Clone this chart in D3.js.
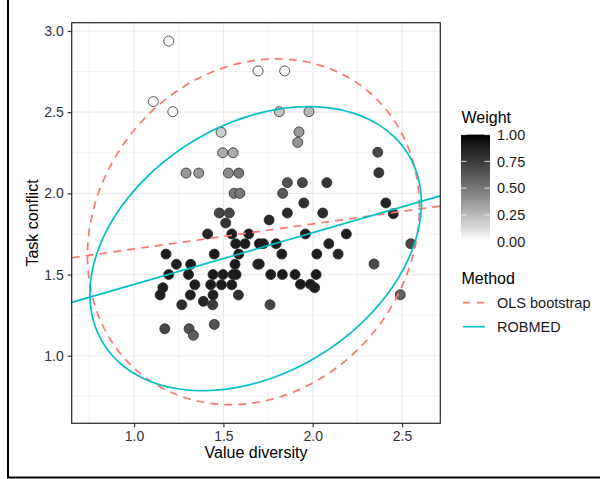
<!DOCTYPE html>
<html><head><meta charset="utf-8">
<script src="https://cdn.jsdelivr.net/npm/d3@7"></script>
<style>
html,body{margin:0;padding:0;background:#fff;}
svg{display:block;font-family:"Liberation Sans",Arial,Helvetica,sans-serif;}
</style></head>
<body><svg id="chart" width="600" height="479"></svg>
<script>
// ---- data ----
const valueDiversity = [
1.194,1.108,1.217,1.694,1.843,1.487,1.813,1.979,1.923,1.916,
1.496,1.554,1.291,1.362,1.528,1.586,1.560,1.592,1.477,1.533,
1.513,1.412,1.547,1.642,1.569,1.621,1.179,1.449,1.586,1.237,
1.317,1.565,1.692,1.194,1.305,1.442,1.498,1.554,1.571,1.161,
1.146,1.340,1.315,1.429,1.489,1.547,1.442,1.584,1.267,1.388,
1.440,1.172,1.308,1.332,1.449,2.364,2.370,1.858,1.942,2.079,
1.832,1.950,2.409,1.858,2.056,2.451,1.756,1.959,2.188,1.701,
1.724,1.795,2.090,2.549,1.827,2.023,2.142,1.701,2.343,1.765,
1.830,1.901,2.019,1.931,1.987,2.011,1.761,2.490];
const taskConflict = [
2.938,2.565,2.503,2.754,2.754,2.376,2.503,2.503,2.378,2.314,
2.25,2.25,2.125,2.125,2.125,2.125,2.0,2.0,1.879,1.879,
1.817,1.75,1.75,1.75,1.69,1.69,1.626,1.626,1.626,1.563,
1.563,1.563,1.563,1.5,1.5,1.5,1.5,1.5,1.5,1.419,
1.374,1.437,1.374,1.437,1.437,1.437,1.374,1.374,1.314,1.335,
1.314,1.166,1.166,1.126,1.193,2.253,2.127,2.066,2.066,2.066,
2.0,1.941,1.941,1.879,1.879,1.875,1.836,1.75,1.75,1.69,
1.69,1.69,1.69,1.69,1.626,1.626,1.626,1.565,1.565,1.5,
1.5,1.5,1.5,1.44,1.44,1.419,1.314,1.376];
const weight = [
0,0,0,0,0,0.18,0.2,0.25,0.36,0.38,
0.3,0.3,0.37,0.37,0.42,0.5,0.5,0.5,0.7,0.7,
0.78,0.85,0.9,0.9,0.9,0.9,0.88,0.9,0.9,0.88,
0.9,0.9,0.9,0.9,0.9,0.9,0.9,0.9,0.9,0.88,
0.88,0.9,0.88,0.9,0.9,0.9,0.88,0.8,0.82,0.85,
0.75,0.7,0.65,0.6,0.65,0.7,0.78,0.65,0.7,0.78,
0.63,0.8,0.87,0.83,0.83,0.87,0.83,0.9,0.9,0.9,
0.9,0.9,0.88,0.7,0.88,0.88,0.85,0.88,0.68,0.9,
0.9,0.9,0.9,0.9,0.9,0.88,0.7,0.58];

const methods = ["OLS bootstrap", "ROBMED"];
const methodColors = ["#F8766D", "#00BFC4"];
const methodDash = ["8,6", null];
const lineIntercept = [1.503, 1.122];
const lineSlope = [0.1544, 0.3177];
const ellipseCx = [1.668, 1.6805];
const ellipseCy = [1.7635, 1.6595];
const ellipseHalfX = [0.929, 0.9275];
const ellipseHalfY = [1.0645, 0.8745];
const ellipseRho = [0.14, 0.32];

const xTicks = [1.0, 1.5, 2.0, 2.5];
const xMinor = [0.75, 1.25, 1.75, 2.25];
const yTicks = [1.0, 1.5, 2.0, 2.5, 3.0];
const yMinor = [0.75, 1.25, 1.75, 2.25, 2.75];
const weightTicks = [0, 0.25, 0.5, 0.75, 1];

// ---- layout ----
const svg = d3.select("#chart");
const P = {l: 71.7, r: 440.3, t: 22.7, b: 423.3};
const x = d3.scaleLinear().domain([0.651, 2.714]).range([P.l, P.r]);
const y = d3.scaleLinear().domain([0.584, 3.051]).range([P.b, P.t]);
const fill = d3.scaleLinear().domain([0, 1]).range(["#ffffff", "#000000"]).interpolate(d3.interpolateLab);

// outer frame
svg.append("line").attr("x1", 8).attr("x2", 8).attr("y1", 0).attr("y2", 478).attr("stroke", "#000").attr("stroke-width", 2);
svg.append("line").attr("x1", 7).attr("x2", 600).attr("y1", 477.5).attr("y2", 477.5).attr("stroke", "#000").attr("stroke-width", 2);

svg.append("defs").append("clipPath").attr("id", "clip")
  .append("rect").attr("x", P.l).attr("y", P.t).attr("width", P.r - P.l).attr("height", P.b - P.t);

const grid = svg.append("g");
grid.selectAll(".xm").data(xMinor).join("line")
  .attr("x1", d => x(d)).attr("x2", d => x(d)).attr("y1", P.t).attr("y2", P.b)
  .attr("stroke", "#EBEBEB").attr("stroke-width", 0.6);
grid.selectAll(".ym").data(yMinor).join("line").attr("class","ym")
  .attr("y1", d => y(d)).attr("y2", d => y(d)).attr("x1", P.l).attr("x2", P.r)
  .attr("stroke", "#EBEBEB").attr("stroke-width", 0.6);
grid.selectAll(".xM").data(xTicks).join("line").attr("class","xM")
  .attr("x1", d => x(d)).attr("x2", d => x(d)).attr("y1", P.t).attr("y2", P.b)
  .attr("stroke", "#EBEBEB").attr("stroke-width", 1.2);
grid.selectAll(".yM").data(yTicks).join("line").attr("class","yM")
  .attr("y1", d => y(d)).attr("y2", d => y(d)).attr("x1", P.l).attr("x2", P.r)
  .attr("stroke", "#EBEBEB").attr("stroke-width", 1.2);

// points
const idx = d3.range(valueDiversity.length);
svg.append("g").selectAll("circle").data(idx).join("circle")
  .attr("cx", i => x(valueDiversity[i])).attr("cy", i => y(taskConflict[i]))
  .attr("r", 5).attr("fill", i => fill(weight[i]))
  .attr("stroke", "#2b2b2b").attr("stroke-width", 0.8);

// ellipses and lines
const layer = svg.append("g").attr("clip-path", "url(#clip)");
const ts = d3.range(0, 361, 2).map(d => d * Math.PI / 180);
methods.forEach((m, k) => {
  const pts = ts.map(t => [
    ellipseCx[k] + ellipseHalfX[k] * Math.cos(t),
    ellipseCy[k] + ellipseHalfY[k] * (ellipseRho[k] * Math.cos(t) + Math.sqrt(1 - ellipseRho[k] ** 2) * Math.sin(t))
  ]);
  layer.append("path")
    .attr("d", d3.line().x(d => x(d[0])).y(d => y(d[1])).curve(d3.curveLinearClosed)(pts))
    .attr("fill", "none").attr("stroke", methodColors[k]).attr("stroke-width", 1.7)
    .attr("stroke-dasharray", methodDash[k]);
  const xd = x.domain();
  layer.append("line")
    .attr("x1", x(xd[0])).attr("y1", y(lineIntercept[k] + lineSlope[k] * xd[0]))
    .attr("x2", x(xd[1])).attr("y2", y(lineIntercept[k] + lineSlope[k] * xd[1]))
    .attr("stroke", methodColors[k]).attr("stroke-width", 1.7)
    .attr("stroke-dasharray", methodDash[k]);
});

// panel border
svg.append("rect").attr("x", P.l).attr("y", P.t).attr("width", P.r - P.l).attr("height", P.b - P.t)
  .attr("fill", "none").attr("stroke", "#333").attr("stroke-width", 1.3);

// axes
const xAxis = svg.append("g").attr("transform", `translate(0,${P.b})`)
  .call(d3.axisBottom(x).tickValues(xTicks).tickFormat(d3.format(".1f")).tickSize(4).tickPadding(4));
const yAxis = svg.append("g").attr("transform", `translate(${P.l},0)`)
  .call(d3.axisLeft(y).tickValues(yTicks).tickFormat(d3.format(".1f")).tickSize(4).tickPadding(4));
[xAxis, yAxis].forEach(a => {
  a.select(".domain").remove();
  a.selectAll(".tick line").attr("stroke", "#333").attr("stroke-width", 1.2);
  a.selectAll(".tick text").attr("fill", "#333").style("font-size", "14px")
   .style("font-family", "'Liberation Sans',Arial,sans-serif");
});

svg.append("text").attr("x", (P.l + P.r) / 2).attr("y", 458).attr("text-anchor", "middle")
  .style("font-size", "16px").attr("fill", "#000").text("Value diversity");
svg.append("text").attr("transform", `translate(38,${(P.t + P.b) / 2}) rotate(-90)`)
  .attr("text-anchor", "middle").style("font-size", "16px").attr("fill", "#000").text("Task conflict");

// legend: weight
const lg = svg.append("g");
lg.append("text").attr("x", 461.5).attr("y", 122.7).style("font-size", "16px").text("Weight");
const wy = d3.scaleLinear().domain([0, 1]).range([241.7, 134.6]);
const grad = svg.select("defs").append("linearGradient").attr("id", "wgrad")
  .attr("x1", 0).attr("x2", 0).attr("y1", 1).attr("y2", 0);
d3.range(0, 1.0001, 0.1).forEach(v => grad.append("stop").attr("offset", v).attr("stop-color", fill(v)));
lg.append("rect").attr("x", 461).attr("y", wy(1)).attr("width", 29).attr("height", wy(0) - wy(1))
  .attr("fill", "url(#wgrad)");
weightTicks.forEach(v => {
  lg.append("line").attr("x1", 461).attr("x2", 466.5).attr("y1", wy(v)).attr("y2", wy(v))
    .attr("stroke", "#fff").attr("stroke-width", 0.8);
  lg.append("line").attr("x1", 484.5).attr("x2", 490).attr("y1", wy(v)).attr("y2", wy(v))
    .attr("stroke", "#fff").attr("stroke-width", 0.8);
  lg.append("text").attr("x", 497).attr("y", wy(v)).attr("dy", "0.36em")
    .style("font-size", "14.5px").attr("fill", "#1a1a1a").text(d3.format(".2f")(v));
});

// legend: method
lg.append("text").attr("x", 461.5).attr("y", 283.5).style("font-size", "16px").text("Method");
methods.forEach((m, k) => {
  const yy = 302.7 + k * 24;
  lg.append("line").attr("x1", 463).attr("x2", 485).attr("y1", yy).attr("y2", yy)
    .attr("stroke", methodColors[k]).attr("stroke-width", 1.7)
    .attr("stroke-dasharray", methodDash[k] ? "7,7" : null);
  lg.append("text").attr("x", 497).attr("y", yy).attr("dy", "0.36em")
    .style("font-size", "14.5px").attr("fill", "#1a1a1a").text(m);
});
</script></body></html>
